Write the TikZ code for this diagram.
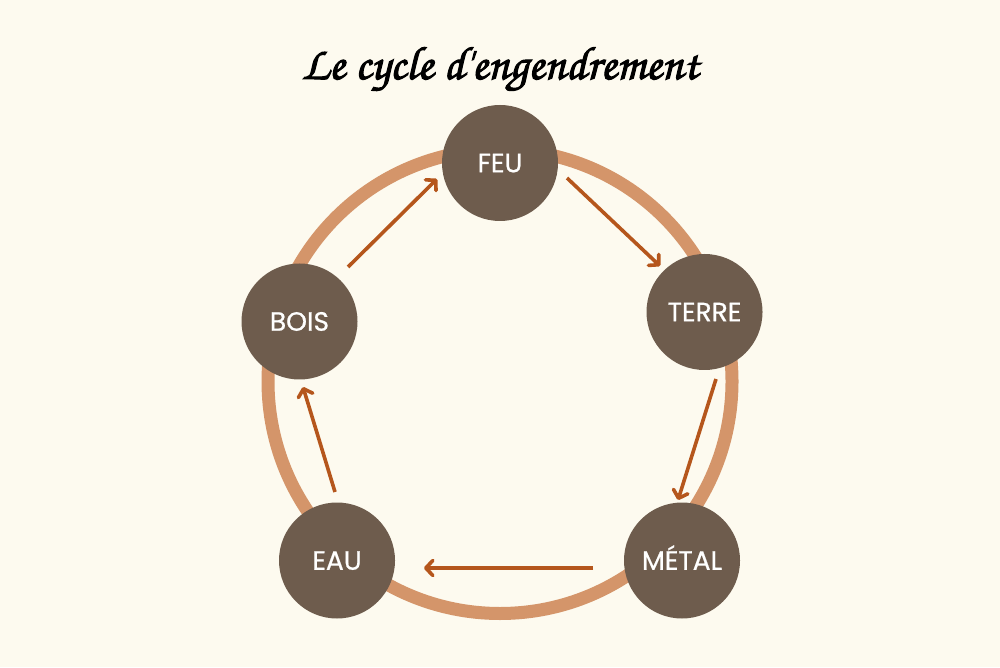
\documentclass[tikz,border=0pt]{standalone}
\usepackage{fontspec}
\setmainfont{Poppins}
\newfontfamily\popfont[FakeBold=0.7]{Poppins}
\newfontfamily\titlefont[FakeBold=2.2]{texgyrechorus-mediumitalic.otf}
\usetikzlibrary{arrows.meta,calc}
\definecolor{bg}{HTML}{FDFAEF}
\definecolor{ringc}{HTML}{D4956A}
\definecolor{nodec}{HTML}{6E5C4D}
\definecolor{arrc}{HTML}{B5561C}
\tikzset{
  elem/.style={circle,fill=nodec,minimum size=116pt,inner sep=0pt,text=white,text height=18.5pt,text depth=0pt,font=\popfont\fontsize{26.5}{30}\selectfont},
  arr/.style={draw=arrc,line width=3.6pt,-{Straight Barb[length=7pt,width=15pt,line cap=round,line join=round]}}
}
\begin{document}
\begin{tikzpicture}[x=1pt,y=1pt]
\fill[bg] (0,0) rectangle (1000,667);
\useasboundingbox (0,0) rectangle (1000,667);
\node[font=\titlefont\fontsize{47}{50}\selectfont] (title) at (500,598) {Le cycle d'engendrement};
\coordinate (ctr) at (500,285.5);
\draw[ringc,line width=13pt] (ctr) circle (232);
\node[elem] (feu) at (500,504) {FEU};
\node[elem] (terre) at (704.5,355) {TERRE};
\node[elem] (metal) at (682,106.5) {MÉTAL};
\node[elem] (eau) at (337,106.5) {EAU};
\node[elem] (bois) at (299.5,345.5) {BOIS};
\draw[arr] ($(feu.center)+(67,-15)$) -- ($(terre.center)+(-44.5,46)$);
\draw[arr] ($(terre.center)+(11.5,-67)$) -- ($(metal.center)+(-4,60.5)$);
\draw[arr] ($(metal.center)+(-89,-7.5)$) -- ($(eau.center)+(87,-7.5)$);
\draw[arr] ($(eau.center)+(-2,68.5)$) -- ($(bois.center)+(3.5,-65.5)$);
\draw[arr] ($(bois.center)+(48.5,54.5)$) -- ($(feu.center)+(-63,-16)$);
\end{tikzpicture}
\end{document}
